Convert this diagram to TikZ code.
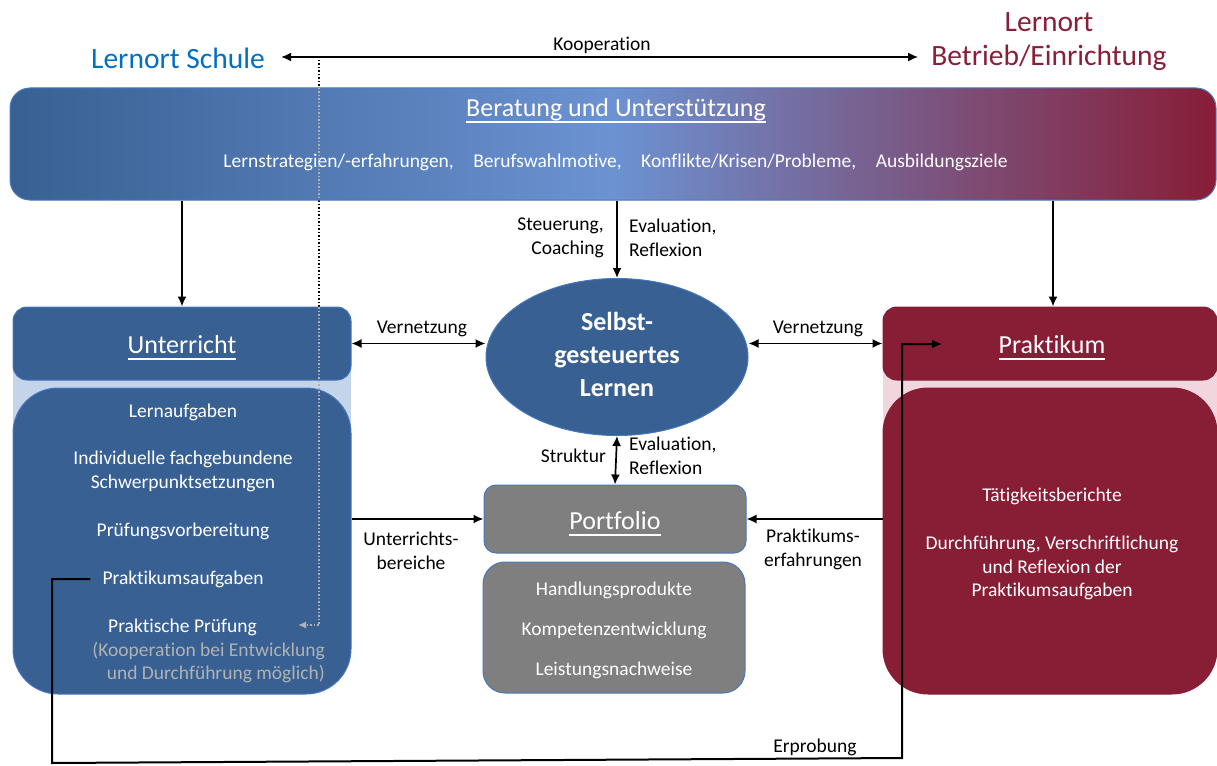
\documentclass[tikz,border=0pt]{standalone}
\usepackage{fontspec}
\setmainfont{Carlito}[Ligatures=NoCommon]
\usetikzlibrary{arrows.meta,shapes.geometric}
\definecolor{ublue}{RGB}{56,96,146}
\definecolor{ubord}{RGB}{70,120,190}
\definecolor{ulight}{RGB}{197,213,233}
\definecolor{pred}{RGB}{136,29,54}
\definecolor{plight}{RGB}{242,214,221}
\definecolor{pgray}{RGB}{127,127,127}
\definecolor{bmid}{RGB}{108,146,210}
\definecolor{schule}{RGB}{0,112,192}
\definecolor{betr}{RGB}{137,30,56}
\definecolor{paren}{RGB}{178,178,178}
\newcommand\fsbody{\fontsize{19.5pt}{23.8pt}\selectfont}
\newcommand\fshead{\fontsize{26pt}{31.7pt}\selectfont}
\newcommand\fsell{\fontsize{26pt}{33pt}\selectfont}
\newcommand\fsbig{\fontsize{29.5pt}{36pt}\selectfont}
\newcommand\myul[1]{\setbox0\hbox{#1}\leavevmode\rlap{\smash{\raisebox{-0.24em}{\rule{\wd0}{0.065em}}}}\box0}
\begin{document}
\begin{tikzpicture}[x=1pt,y=-1pt,
  txt/.style={inner sep=0pt, font=\fsbody, text=white, yshift=-2pt},
  lbl/.style={inner sep=0pt, font=\fsbody, text=black, yshift=-2pt},
  hd/.style={inner sep=0pt, font=\fshead, text=white, yshift=-2pt},
  bluebox/.style={fill=ublue, draw=ubord, line width=1pt, inner sep=0pt},
  redbox/.style={fill=pred, draw=pred, line width=1pt, inner sep=0pt},
  graybox/.style={fill=pgray, draw=ubord, line width=1pt, inner sep=0pt},
  arr/.style={line width=1.7pt, -{Latex[length=10pt,width=9pt]}},
  darr/.style={line width=1.7pt, {Latex[length=10pt,width=9pt]}-{Latex[length=10pt,width=9pt]}},
  dots/.style={line width=1.5pt, dotted}
]
\useasboundingbox (0,0) rectangle (1217,765);

% coordinates of the dotted cooperation line
\coordinate (d0) at (319,60);
\coordinate (d1) at (319,88);
\coordinate (d2) at (319,200);
\coordinate (d3) at (319,307);
\coordinate (d4) at (298,625);
\draw[dots, black] (d0) -- (d3);

% headings
\node[inner sep=0pt, font=\fsbig, text=schule] (schule) at (178,58) {Lernort Schule};
\node[inner sep=0pt, font=\fsbig, text=betr] (lo2) at (1049,22) {Lernort};
\node[inner sep=0pt, font=\fsbig, text=betr] (betrieb) at (1049,58) {Betrieb/Einrichtung};
\node[lbl] (koop) at (602,43) {Kooperation};
\draw[darr] ([xshift=16pt,yshift=1pt]schule.east) -- ([xshift=-13pt,yshift=1pt]betrieb.west);

% banner
\node[draw=ubord, line width=1pt, rounded corners=20pt, minimum width=1206pt, minimum height=112pt,
      left color=ublue, right color=pred, middle color=bmid, inner sep=0pt] (banner) at (613,144) {};
\node[hd] (btitle) at (616,108) {\myul{Beratung und Unterstützung}};
\node[txt] (bsub) at (615.5,160) {Lernstrategien/-erfahrungen,\quad Berufswahlmotive,\quad Konflikte/Krisen/Probleme,\quad Ausbildungsziele};

% Unterricht
\node[fill=ulight, minimum width=338pt, minimum height=82pt, inner sep=0pt] (uband) at (182,412) {};
\node[bluebox, rounded corners=14pt, minimum width=338pt, minimum height=73pt] (uhead) at (182,343.5) {};
\node[hd] (uhtxt) at (182,343) {\myul{Unterricht}};
\node[bluebox, rounded corners=45pt, minimum width=338pt, minimum height=306pt] (ubody) at (182,541) {};
\node[txt] (u1) at (183,410) {Lernaufgaben};
\node[txt, align=center] (u2) at (183,469.5) {Individuelle fachgebundene\\Schwerpunktsetzungen};
\node[txt] (u3) at (183,529) {Prüfungsvorbereitung};
\node[txt] (pa) at (183,577) {Praktikumsaufgaben};
\node[txt] (u5) at (182.5,625) {Praktische Prüfung};
\node[txt, text=paren, align=right, anchor=east] (u6) at (325,660.5) {(Kooperation bei Entwicklung\\und Durchführung möglich)};

% Praktikum
\node[fill=plight, minimum width=334pt, minimum height=82pt, inner sep=0pt] (pband) at (1050,412) {};
\node[redbox, rounded corners=14pt, minimum width=334pt, minimum height=73pt] (phead) at (1050,343.5) {};
\node[hd] (phtxt) at (1052,343) {\myul{Praktikum}};
\node[redbox, rounded corners=45pt, minimum width=334pt, minimum height=306pt] (pbody) at (1050,541) {};
\node[txt] (p1) at (1052,494) {Tätigkeitsberichte};
\node[txt, align=center] (p2) at (1052,566) {Durchführung, Verschriftlichung\\und Reflexion der\\Praktikumsaufgaben};

% ellipse
\node[ellipse, fill=ublue, draw=ubord, line width=1pt, minimum width=262pt, minimum height=157pt, inner sep=0pt] (ell) at (617,357) {};
\node[inner sep=0pt, font=\fsell\bfseries, text=white, align=center] (elltxt) at (617,354) {Selbst-\\gesteuertes\\Lernen};

% portfolio
\node[graybox, rounded corners=12pt, minimum width=262pt, minimum height=68pt] (ph) at (615,519) {};
\node[hd] (phtxt2) at (615,519) {\myul{Portfolio}};
\node[graybox, rounded corners=22pt, minimum width=262pt, minimum height=131pt] (pb) at (614,627.5) {};
\node[txt] (pb1) at (614,588) {Handlungsprodukte};
\node[txt] (pb2) at (614,628) {Kompetenzentwicklung};
\node[txt] (pb3) at (614,668) {Leistungsnachweise};

% gray dotted over coloured areas
\draw[dots, paren] (d1) -- (d2);
\draw[dots, paren, -{Latex[length=8pt,width=7pt]}] (d3) |- (d4);

% arrows from banner
\draw[arr] (banner.south -| uhead.north) -- (uhead.north);
\draw[arr] ([xshift=3pt]banner.south -| phead.north) -- ([xshift=3pt]phead.north);
\draw[arr] (banner.south -| ell.north) -- (ell.north);
\node[lbl, align=right, anchor=east] (steu) at (604,235.5) {Steuerung,\\Coaching};
\node[lbl, align=left, anchor=west] (eval1) at (629,235.5) {Evaluation,\\Reflexion};

% Vernetzung
\draw[darr] (uhead.east) -- (uhead.east -| ell.west);
\draw[darr] (phead.west -| ell.east) -- (phead.west);
\node[lbl] (vern1) at (422,327) {Vernetzung};
\node[lbl] (vern2) at (818,327) {Vernetzung};

% Struktur
\draw[darr] (ell.south) -- (ph.north);
\node[lbl, anchor=east] (strukt) at (606,454) {Struktur};
\node[lbl, align=left, anchor=west] (eval2) at (629,454) {Evaluation,\\Reflexion};

% into portfolio
\draw[arr] (ubody.east |- ph.west) -- (ph.west);
\draw[arr] (pbody.west |- ph.east) -- (ph.east);
\node[lbl, align=center] (ub) at (411,548.5) {Unterrichts-\\bereiche};
\node[lbl, align=center] (pe) at (813,547) {Praktikums-\\erfahrungen};

% Erprobung
\coordinate (e1) at (52,763);
\coordinate (e2) at (902,758);
\coordinate (e3) at (942,344);
\draw[line width=2pt, -{Latex[length=10pt,width=9pt]}] ([xshift=-12pt]pa.west) -| (e1) -- (e2) |- (e3);
\node[lbl] (erp) at (815,745) {Erprobung};
\end{tikzpicture}
\end{document}
